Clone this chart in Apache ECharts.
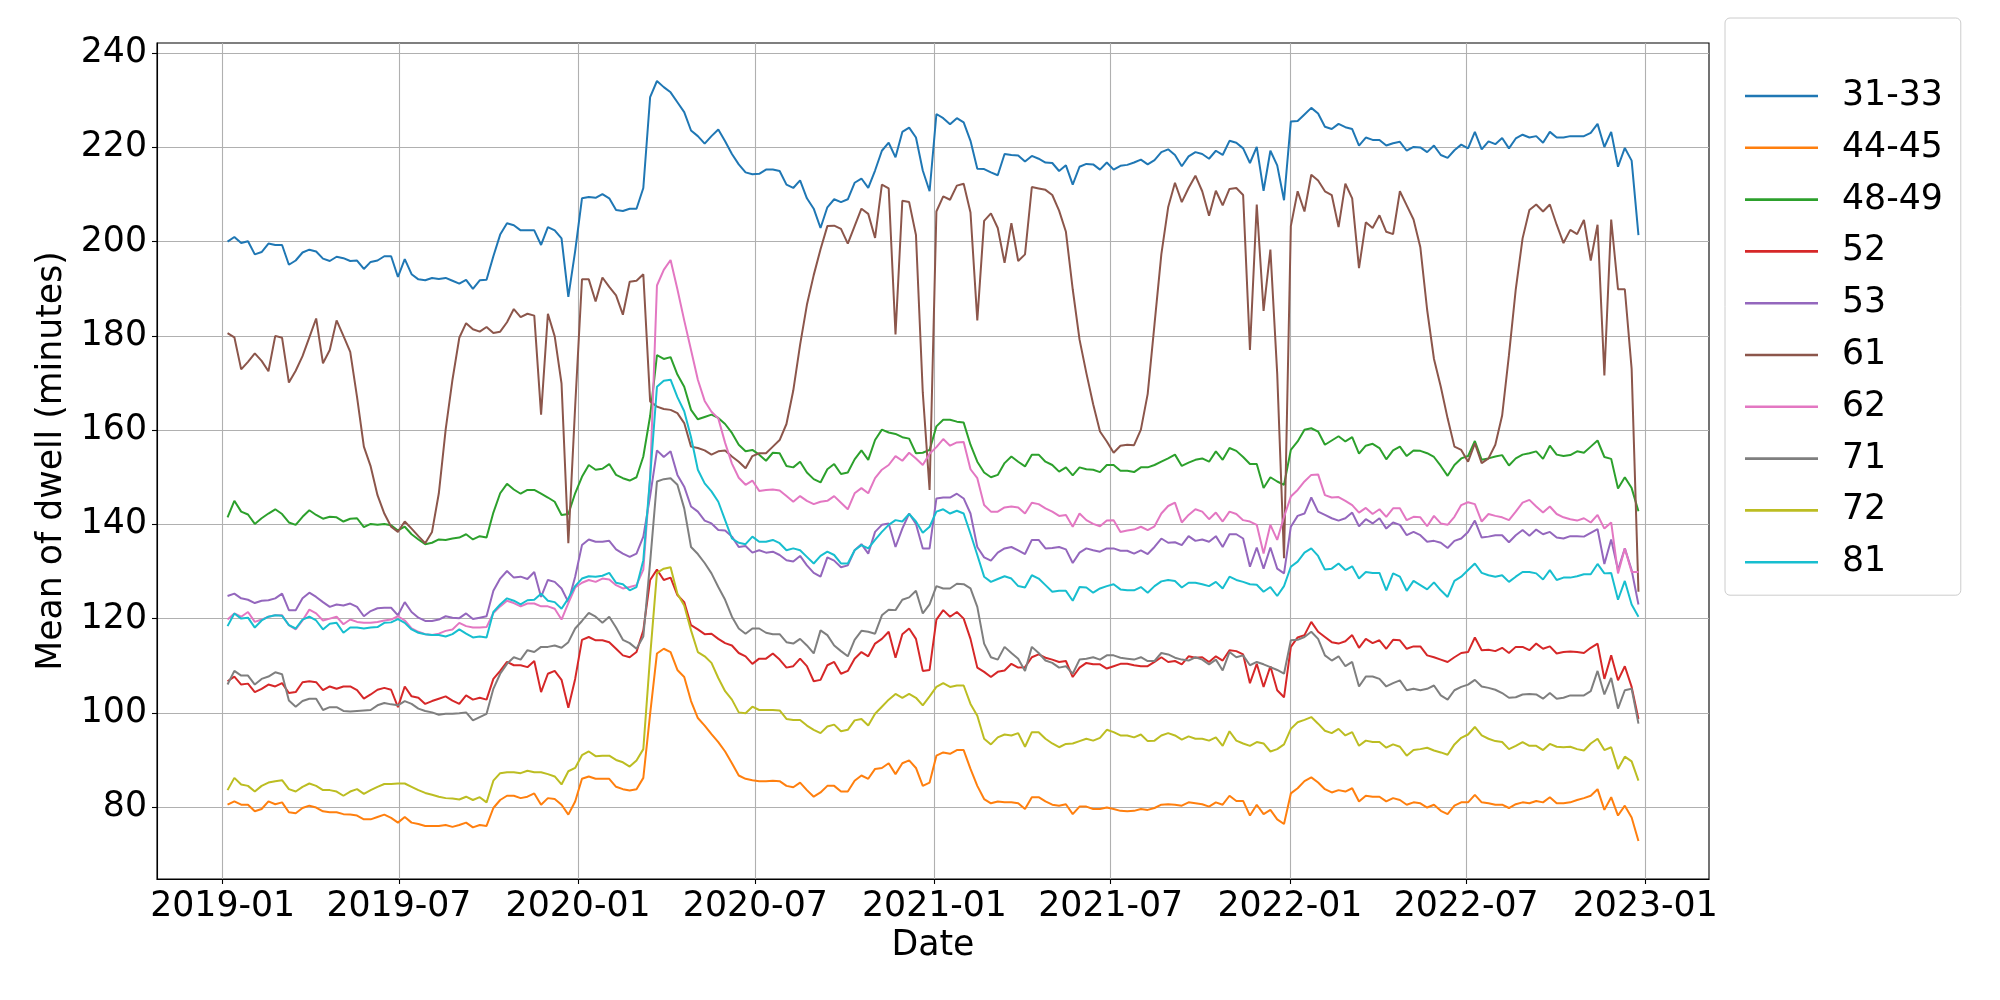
<!DOCTYPE html>
<html><head><meta charset="utf-8">
<script src="https://cdn.jsdelivr.net/npm/echarts@6/dist/echarts.min.js"></script>
<style>html,body{margin:0;padding:0;background:#fff}#c{width:2000px;height:1000px}</style>
</head><body><div id="c"></div>
<script>
const seriesNames = ['31-33','44-45','48-49','52','53','61','62','71','72','81'];
const firstWeek = '2019-01-06';
const weekCount = 208;
const yTickValues = [80,100,120,140,160,180,200,220,240];
const xTickDates = ['2019-01-01','2019-07-01','2020-01-01','2020-07-01','2021-01-01','2021-07-01','2022-01-01','2022-07-01','2023-01-01'];

const s3133 = [200.0,201.0,199.7,200.1,197.3,197.8,199.6,199.3,199.3,195.1,196.0,197.7,198.3,197.9,196.4,195.9,196.8,196.5,195.9,196.0,194.2,195.7,196.0,196.9,196.9,192.5,196.3,193.1,192.0,191.8,192.3,192.1,192.3,191.7,191.1,191.9,190.0,191.8,191.9,196.9,201.5,203.9,203.5,202.4,202.4,202.4,199.3,203.1,202.4,200.7,188.3,198.0,209.2,209.5,209.3,210.1,209.2,206.7,206.5,207.0,207.0,211.4,230.7,234.1,232.8,231.7,229.6,227.5,223.6,222.4,220.8,222.4,223.8,221.3,218.6,216.4,214.7,214.3,214.4,215.3,215.3,215.0,212.1,211.4,213.0,209.2,207.0,202.9,207.3,209.0,208.4,209.0,212.5,213.4,211.4,215.1,219.3,221.0,217.9,223.3,224.2,222.1,215.1,210.7,227.1,226.2,224.9,226.2,225.3,221.4,215.5,215.4,214.7,214.1,218.6,218.4,218.3,217.0,218.2,217.6,216.8,216.7,215.0,216.2,212.1,215.9,216.5,216.4,215.3,216.8,215.3,216.1,216.3,216.8,217.4,216.4,217.3,219.0,219.6,218.4,216.0,218.1,219.0,218.6,217.6,219.3,218.4,221.4,221.0,219.8,216.7,220.1,210.8,219.3,216.2,208.8,225.5,225.6,227.0,228.4,227.2,224.4,223.9,225.0,224.3,223.9,220.4,222.1,221.6,221.6,220.4,220.9,221.2,219.3,220.1,220.0,219.0,220.4,218.4,217.8,219.4,220.6,219.8,223.3,219.6,221.3,220.7,222.0,219.8,221.9,222.7,222.1,222.4,221.0,223.3,222.1,222.1,222.4,222.4,222.4,223.1,225.0,220.1,223.3,215.9,219.9,217.2,201.4];
const s4445 = [80.5,81.2,80.5,80.5,79.1,79.6,81.2,80.6,81.0,78.9,78.7,79.8,80.3,79.9,79.1,78.9,78.9,78.5,78.4,78.2,77.4,77.4,77.9,78.4,77.7,76.7,77.9,76.7,76.4,76.0,76.0,76.0,76.2,75.8,76.2,76.7,75.7,76.2,76.0,79.8,81.5,82.4,82.4,81.9,82.2,82.9,80.5,81.9,81.7,80.5,78.4,81.2,86.0,86.5,86.0,86.0,86.0,84.3,83.8,83.5,83.8,86.2,99.8,112.6,113.6,112.9,109.1,107.6,102.5,98.9,97.3,95.5,93.8,91.8,89.3,86.7,86.0,85.7,85.5,85.5,85.6,85.5,84.5,84.2,85.2,83.6,82.2,83.1,84.5,84.5,83.3,83.3,85.6,86.7,86.0,88.1,88.3,89.3,87.0,89.3,89.9,88.3,84.5,85.2,90.9,91.6,91.3,92.1,92.1,88.1,84.5,81.7,80.8,81.2,81.0,81.0,80.8,79.6,82.1,82.1,81.2,80.5,80.3,80.6,78.5,80.1,80.1,79.6,79.6,79.9,79.6,79.2,79.1,79.2,79.6,79.4,79.8,80.5,80.6,80.5,80.3,81.0,80.8,80.6,80.1,81.0,80.5,82.4,81.3,81.3,78.2,80.5,78.5,79.4,77.4,76.4,82.9,84.0,85.5,86.3,85.2,83.8,83.1,83.6,83.3,84.0,81.2,82.4,82.2,82.2,81.2,81.9,81.5,80.5,81.0,80.8,79.9,80.5,79.2,78.5,80.3,81.0,81.0,82.6,81.0,80.8,80.5,80.5,79.8,80.6,81.0,80.8,81.3,81.0,82.1,80.8,80.8,81.0,81.5,81.9,82.4,83.8,79.4,82.1,78.2,80.3,77.8,72.8];
const s4849 = [141.5,145.0,142.7,142.1,140.1,141.3,142.3,143.2,142.2,140.4,139.9,141.6,143.0,142.0,141.2,141.6,141.5,140.6,141.2,141.3,139.4,140.1,139.9,140.1,139.8,138.7,139.5,137.9,136.8,135.8,136.1,136.8,136.7,137.0,137.2,137.9,136.8,137.5,137.2,142.5,146.6,148.6,147.4,146.5,147.3,147.3,146.5,145.7,144.8,142.0,142.2,146.6,150.1,152.6,151.6,151.8,152.8,150.5,149.8,149.3,150.0,154.4,163.0,175.9,175.1,175.5,171.8,169.2,164.3,162.3,162.8,163.3,162.6,161.3,159.4,156.9,155.5,155.8,154.8,153.5,155.2,155.1,152.4,152.1,153.3,151.0,149.6,148.9,151.7,152.8,150.7,151.0,153.8,155.7,153.7,157.9,160.1,159.5,159.2,158.5,158.2,155.1,155.2,155.8,160.8,162.2,162.2,161.8,161.6,156.9,153.3,151.0,150.0,150.5,153.0,154.4,153.3,152.3,154.8,154.8,153.3,152.6,151.2,152.1,150.4,152.1,151.7,151.6,151.1,152.6,152.6,151.4,151.4,151.1,152.1,152.1,152.6,153.3,154.0,154.8,152.4,153.1,153.7,154.0,153.3,155.5,153.7,156.2,155.6,154.3,152.8,152.8,147.7,150.0,149.1,148.4,155.8,157.6,160.1,160.4,159.7,156.9,157.8,158.7,157.6,158.5,155.0,156.7,157.1,156.2,153.8,155.7,156.5,154.5,155.7,155.6,155.1,154.3,152.4,150.3,152.6,154.0,154.5,157.7,153.7,154.0,154.4,154.7,152.5,154.0,154.8,155.1,155.5,153.9,156.7,154.8,154.5,154.7,155.5,155.2,156.5,157.8,154.3,153.9,147.6,150.0,147.7,142.8];
const s52 = [106.7,107.7,106.0,106.2,104.4,105.1,106.0,105.6,106.3,104.2,104.4,106.5,106.7,106.5,104.8,105.6,105.1,105.6,105.6,104.8,103.0,103.9,104.9,105.3,104.9,101.2,105.6,103.5,103.2,101.9,102.5,103.0,103.5,102.6,101.9,103.7,102.8,103.2,102.8,107.2,108.9,110.8,110.1,110.1,109.7,111.0,104.4,108.3,108.9,107.0,101.1,107.2,115.5,116.1,115.4,115.4,115.0,113.6,112.2,111.8,112.9,117.5,128.2,130.4,128.2,128.7,125.0,123.5,118.6,117.7,116.7,116.8,115.7,114.8,114.3,112.7,112.0,110.4,111.5,111.5,112.6,111.3,109.6,109.9,111.5,109.9,106.7,107.0,110.1,110.8,108.3,108.9,111.5,112.9,112.0,114.7,115.7,117.2,111.7,116.7,117.9,115.7,108.9,109.1,119.8,121.8,120.4,121.4,120.0,115.7,109.6,108.7,107.6,108.7,109.0,110.4,109.6,109.7,111.8,112.4,111.7,111.3,110.8,111.0,107.6,109.6,110.6,110.3,110.3,109.4,109.9,110.4,110.4,110.1,109.9,109.9,110.8,111.8,110.8,111.0,110.3,112.0,111.7,111.8,110.8,112.0,111.1,113.3,113.1,112.4,106.3,110.4,105.5,109.9,104.8,103.3,114.0,116.0,116.5,119.3,117.2,116.1,115.0,114.7,115.2,116.5,113.8,115.7,114.8,115.4,113.6,115.5,115.4,113.6,114.1,114.1,112.2,111.8,111.3,110.8,111.8,112.7,112.9,116.0,113.3,113.4,113.1,113.8,112.7,114.0,114.0,113.3,114.7,113.6,114.1,112.6,112.9,113.0,112.9,112.7,113.8,114.7,107.2,112.2,106.9,109.9,105.5,98.7];
const s53 = [124.8,125.3,124.3,124.0,123.3,123.8,123.9,124.3,125.3,121.8,121.8,124.3,125.5,124.6,123.5,122.5,123.0,122.8,123.2,122.5,120.5,121.6,122.2,122.3,122.3,120.7,123.5,121.4,120.2,119.5,119.5,119.8,120.5,120.2,120.1,121.1,119.9,120.2,120.5,125.9,128.5,130.1,128.7,128.9,128.4,129.9,124.6,128.2,127.8,126.4,123.5,128.9,135.6,136.8,136.3,136.3,136.5,134.7,133.8,133.1,133.8,137.4,146.0,155.7,154.3,155.5,150.5,148.0,143.8,142.7,140.8,140.2,138.8,138.7,137.4,135.2,135.4,134.0,134.5,134.0,134.2,133.5,132.4,132.1,133.3,131.3,129.7,128.9,133.0,132.3,130.9,131.3,134.5,135.8,133.8,138.4,139.9,140.2,135.2,139.1,142.3,140.1,134.9,134.9,145.5,145.7,145.7,146.5,145.5,142.3,135.2,133.0,132.3,134.0,134.9,135.2,134.5,133.7,136.7,136.7,134.9,135.0,135.2,134.7,131.8,134.0,134.9,134.5,134.2,134.9,134.9,134.4,134.4,133.8,134.5,133.7,135.2,137.0,136.1,136.2,135.6,137.5,136.5,136.8,136.3,137.5,135.2,137.9,137.9,137.0,131.0,135.1,130.6,135.1,130.6,129.6,139.5,141.8,142.3,145.7,142.7,142.0,141.3,140.8,141.3,142.5,139.6,141.1,140.2,141.3,139.1,140.4,139.9,137.7,138.4,137.7,136.3,136.5,136.1,135.0,136.5,137.0,138.4,140.8,137.2,137.4,137.7,137.7,136.2,137.7,138.8,137.6,138.9,137.9,138.4,137.2,137.0,137.5,137.5,137.4,138.2,139.0,131.6,136.8,130.3,134.9,130.3,123.0];
const s61 = [180.6,179.7,172.9,174.5,176.3,174.7,172.5,180.0,179.6,170.1,172.6,175.7,179.7,183.7,174.2,177.0,183.3,180.0,176.6,167.0,156.5,152.3,146.2,142.3,139.5,138.4,140.6,139.1,137.5,136.0,138.4,146.6,160.1,170.7,179.6,182.7,181.4,180.9,181.9,180.6,180.9,182.9,185.7,184.0,184.7,184.3,163.3,184.7,179.9,169.9,136.0,165.0,192.0,192.0,187.3,192.4,190.4,188.6,184.5,191.5,191.7,193.1,166.1,165.0,164.5,164.3,163.6,161.5,156.5,156.2,155.7,154.8,155.5,155.7,154.4,153.3,151.9,154.5,155.1,155.1,156.5,157.9,161.3,168.4,178.1,186.6,192.9,198.4,203.3,203.4,202.7,199.6,203.3,207.0,205.9,200.8,212.1,211.3,180.3,208.7,208.4,201.4,168.0,147.3,206.4,209.6,208.9,211.9,212.3,206.2,183.3,204.4,206.0,202.9,195.5,203.9,195.9,197.3,211.6,211.3,211.0,209.9,206.6,202.1,189.9,179.2,172.1,165.5,159.7,157.6,155.2,156.7,156.9,156.8,160.1,167.7,182.5,197.3,207.3,212.5,208.4,211.4,214.0,210.7,205.5,210.8,207.7,211.2,211.4,209.9,177.0,207.9,185.3,198.3,172.0,132.8,203.3,210.7,206.4,214.2,213.0,210.7,209.9,203.1,212.3,209.2,194.4,204.1,202.9,205.6,202.1,201.6,210.7,207.7,204.7,198.8,185.5,175.1,169.2,162.5,156.5,155.8,153.3,157.2,153.0,154.0,156.9,163.1,175.9,189.9,200.7,206.7,207.9,206.4,207.9,203.6,199.7,202.5,201.6,204.6,196.0,203.6,171.6,204.7,189.9,189.9,173.0,125.7];
const s62 = [119.8,121.1,120.4,121.4,119.3,119.8,120.4,120.7,120.7,118.6,117.7,119.6,121.9,121.1,119.6,120.0,120.4,118.8,119.8,119.3,119.1,119.1,119.3,119.6,119.8,120.5,119.6,117.9,117.2,116.7,116.5,116.8,117.4,117.7,119.1,118.4,118.1,118.1,118.2,121.2,122.6,123.8,123.3,122.6,123.2,123.2,122.6,122.6,122.1,119.8,123.3,126.6,127.6,128.2,127.8,128.5,128.3,127.1,126.4,126.7,127.1,130.4,150.0,190.7,194.0,196.1,189.9,183.3,177.0,170.7,166.2,163.9,162.5,157.3,152.9,149.9,148.4,149.3,147.1,147.3,147.4,147.2,146.0,144.8,146.0,145.0,144.3,144.8,145.0,146.0,144.6,143.2,146.6,147.7,146.6,149.8,151.6,152.6,154.5,153.5,155.2,154.0,152.6,155.0,156.4,158.1,156.7,157.4,157.5,151.7,149.8,144.1,142.7,142.7,143.6,143.8,143.6,142.3,144.6,144.3,143.4,142.7,141.8,142.0,139.5,142.3,140.9,140.1,139.6,140.8,140.9,138.4,138.7,138.9,139.5,138.8,139.6,142.3,143.9,144.6,140.4,142.0,143.2,142.7,141.1,142.5,140.6,142.7,142.2,140.9,140.6,139.9,133.8,139.9,136.7,141.6,145.9,147.3,149.1,150.5,150.6,146.2,145.7,145.8,145.0,144.1,142.5,143.5,142.2,143.2,141.6,143.4,143.4,140.9,141.6,141.5,139.6,141.8,140.2,139.9,141.6,144.1,144.7,144.3,140.6,142.2,141.8,141.5,140.9,142.7,144.6,145.2,143.8,142.5,143.8,142.2,141.5,141.1,140.8,141.3,140.4,142.0,139.1,140.4,129.6,134.9,129.9,129.9];
const s71 = [106.0,108.9,107.9,107.9,106.0,107.2,107.7,108.6,108.2,102.6,101.3,102.5,103.0,103.0,100.6,101.2,101.2,100.4,100.3,100.4,100.5,100.6,101.6,102.1,101.8,101.6,102.5,101.9,100.9,100.4,100.1,99.6,99.8,99.8,99.9,100.1,98.4,99.1,99.8,105.1,108.3,110.4,111.8,111.3,113.3,112.9,114.0,114.0,114.3,113.8,115.0,117.9,119.5,121.2,120.4,119.1,120.4,118.1,115.5,114.8,113.6,116.2,132.0,149.1,149.6,149.8,148.4,143.4,135.2,133.7,131.8,129.6,126.7,124.0,120.4,117.9,116.8,117.9,117.9,117.0,116.7,116.7,115.0,114.7,115.7,114.3,112.6,117.5,116.5,114.3,113.1,112.0,115.5,117.4,117.2,116.8,120.7,121.9,121.8,124.0,124.5,125.9,121.1,123.0,126.9,126.4,126.4,127.4,127.3,126.4,122.5,114.7,111.8,111.3,114.0,112.7,111.5,108.9,114.0,112.7,111.1,110.6,109.6,109.9,108.3,111.3,111.5,111.8,111.3,112.2,112.2,111.7,111.5,111.3,111.8,111.0,111.0,112.7,112.4,111.7,111.3,111.1,111.8,111.3,110.3,111.3,109.0,112.9,111.8,112.2,110.1,110.8,110.3,109.7,109.1,108.3,115.4,115.5,116.1,117.2,115.7,112.2,111.1,112.0,109.9,110.8,105.6,107.7,107.7,107.2,105.6,106.3,106.9,104.8,105.1,104.8,105.1,105.8,103.7,102.8,104.8,105.5,106.0,107.0,105.6,105.3,104.9,104.2,103.2,103.3,103.9,104.0,103.9,103.0,104.2,103.0,103.2,103.7,103.7,103.7,104.6,108.9,103.9,107.4,100.9,104.8,105.1,97.7];
const s72 = [83.6,86.2,84.8,84.5,83.3,84.5,85.2,85.5,85.7,83.8,83.3,84.3,85.0,84.5,83.6,83.6,83.3,82.4,83.3,83.8,82.8,83.6,84.3,84.9,84.9,85.0,85.0,84.3,83.6,83.0,82.6,82.2,81.9,81.8,81.6,82.2,81.5,82.1,81.0,85.6,87.2,87.4,87.4,87.2,87.7,87.4,87.4,87.0,86.5,84.8,87.6,88.3,91.0,91.8,90.8,90.9,90.9,90.0,89.5,88.6,89.9,92.3,112.0,129.7,130.6,130.9,125.3,122.8,117.5,112.9,112.0,110.6,107.4,104.6,102.8,100.1,99.9,101.3,100.6,100.6,100.6,100.5,98.7,98.5,98.5,97.3,96.4,95.7,97.1,97.5,96.1,96.4,98.4,98.7,97.3,99.8,101.3,102.8,104.0,103.2,104.0,103.2,101.6,103.5,105.5,106.3,105.5,105.8,105.8,101.9,99.4,94.5,93.3,94.8,95.4,95.2,95.7,92.8,95.9,95.9,94.5,93.5,92.7,93.4,93.5,94.0,94.5,94.1,94.7,96.4,95.9,95.2,95.2,94.8,95.4,94.0,94.1,95.2,95.7,95.2,94.3,95.0,94.5,94.5,94.1,94.8,93.0,96.1,94.1,93.5,93.0,93.8,93.5,91.8,92.3,93.3,96.6,98.0,98.5,99.1,97.7,96.2,95.7,96.6,95.2,95.9,93.0,94.1,93.8,93.8,92.6,93.3,92.8,90.9,92.1,92.3,92.6,92.0,91.6,91.1,93.3,94.7,95.4,97.0,95.2,94.5,94.0,93.8,92.3,93.0,93.8,93.0,93.0,92.1,93.4,92.8,92.7,92.8,92.3,92.0,93.5,94.5,92.1,92.7,88.1,90.7,89.7,85.6];
const s81 = [118.4,121.1,120.0,120.2,118.1,119.6,120.4,120.7,120.6,118.6,117.9,119.8,120.4,119.6,117.7,118.9,119.1,117.0,118.1,118.1,117.9,118.1,118.2,119.1,119.2,119.9,119.1,117.7,117.0,116.7,116.5,116.5,116.2,116.7,117.7,116.8,116.0,116.2,116.0,121.4,123.0,124.3,123.8,123.0,123.9,124.0,125.3,123.8,123.5,122.1,124.3,126.9,128.5,129.0,128.9,129.1,129.7,127.6,127.3,126.0,126.7,132.4,150.0,169.2,170.5,170.7,167.0,164.0,158.5,151.6,148.7,147.0,144.8,140.9,137.0,136.1,135.8,137.4,136.3,136.3,136.7,136.0,134.5,134.9,134.5,133.1,131.7,133.3,134.2,133.5,131.7,131.7,134.5,135.6,134.9,136.7,138.4,139.9,140.9,140.6,142.2,140.6,138.2,139.5,142.7,143.2,142.3,142.9,142.3,138.0,133.5,128.9,127.8,128.4,129.0,128.5,126.9,126.6,129.2,128.5,127.1,125.7,125.9,125.9,123.8,126.7,126.6,125.5,126.4,126.9,127.3,126.2,126.0,126.0,126.7,125.5,126.9,127.9,128.2,128.0,126.6,127.6,127.6,127.3,126.9,127.8,126.4,128.9,128.2,127.8,127.3,127.2,125.7,126.7,124.8,126.9,131.0,132.1,134.0,134.9,133.3,130.4,130.6,131.7,130.3,131.1,128.5,129.9,129.7,129.7,126.0,129.6,128.9,125.9,128.0,127.1,126.2,127.7,126.0,124.6,128.0,128.9,130.3,131.7,129.7,129.2,128.9,129.2,127.8,128.9,129.9,129.9,129.6,128.3,130.3,128.2,128.7,128.7,129.0,129.4,129.4,131.6,129.6,129.7,124.0,128.0,123.0,120.4];

const seriesValues = [s3133, s4445, s4849, s52, s53, s61, s62, s71, s72, s81];
const colors = ['#1f77b4','#ff7f0e','#2ca02c','#d62728','#9467bd','#8c564b','#e377c2','#7f7f7f','#bcbd22','#17becf'];

const DAY = 86400000;
const t0 = Date.parse(firstWeek + 'T00:00:00Z');
const dates = [];
for (let i = 0; i < weekCount; i++) dates.push(t0 + i * 7 * DAY);
const pad = (dates[dates.length - 1] - dates[0]) * 0.05;
const xMin = dates[0] - pad, xMax = dates[dates.length - 1] + pad;
let lo = Infinity, hi = -Infinity;
seriesValues.forEach(a => a.forEach(v => { lo = Math.min(lo, v); hi = Math.max(hi, v); }));
const ypad = (hi - lo) * 0.05;
const yMin = lo - ypad, yMax = hi + ypad;
const xTickValues = xTickDates.map(s => Date.parse(s + 'T00:00:00Z'));

const FONT = 'DejaVu Sans';
const FS = 34.7;
const GRID = '#b0b0b0';

function fmtDate(v) { const d = new Date(v); return d.getUTCFullYear() + '-' + String(d.getUTCMonth() + 1).padStart(2, '0'); }

const chart = echarts.init(document.getElementById('c'), null, {renderer: 'canvas'});
chart.setOption({
  animation: false,
  backgroundColor: '#fff',
  grid: {left: 157, right: 291, top: 43, bottom: 121, show: true, borderColor: '#000', borderWidth: 1.1, backgroundColor: 'transparent'},
  legend: {
    orient: 'vertical', left: 1725, top: 18,
    padding: [58, 18, 13, 20],
    icon: 'rect',
    itemWidth: 73, itemHeight: 2.6, itemGap: 11.8,
    data: seriesNames,
    textStyle: {fontFamily: FONT, fontSize: FS, color: '#000', lineHeight: 40, padding: [0, 0, 0, 19]},
    borderColor: '#cccccc', borderWidth: 1, borderRadius: 5, backgroundColor: 'rgba(255,255,255,0.8)'
  },
  xAxis: {
    type: 'value', min: xMin, max: xMax, scale: true,
    name: 'Date', nameLocation: 'middle', nameGap: 48,
    nameTextStyle: {fontFamily: FONT, fontSize: FS, color: '#000'},
    axisLine: {show: true, onZero: false, lineStyle: {color: '#000', width: 1.1}},
    axisTick: {show: true, inside: false, length: 5, customValues: xTickValues, lineStyle: {color: '#000', width: 1.1}},
    axisLabel: {customValues: xTickValues, margin: 10, fontFamily: FONT, fontSize: FS, color: '#000', formatter: fmtDate},
    splitLine: {show: true, lineStyle: {color: GRID, width: 1.1}}
  },
  yAxis: {
    type: 'value', min: yMin, max: yMax, scale: true,
    name: 'Mean of dwell (minutes)', nameLocation: 'middle', nameGap: 88, nameRotate: 90,
    nameTextStyle: {fontFamily: FONT, fontSize: FS, color: '#000'},
    axisLine: {show: true, onZero: false, lineStyle: {color: '#000', width: 1.1}},
    axisTick: {show: true, inside: false, length: 5, customValues: yTickValues, lineStyle: {color: '#000', width: 1.1}},
    axisLabel: {customValues: yTickValues, margin: 10, fontFamily: FONT, fontSize: FS, color: '#000'},
    splitLine: {show: true, lineStyle: {color: GRID, width: 1.1}}
  },
  series: seriesNames.map((name, k) => ({
    name: name, type: 'line', symbol: 'none', showSymbol: false,
    color: colors[k],
    itemStyle: {color: colors[k]},
    lineStyle: {color: colors[k], width: 2},
    data: dates.map((d, i) => [d, seriesValues[k][i]])
  }))
});
</script></body></html>
